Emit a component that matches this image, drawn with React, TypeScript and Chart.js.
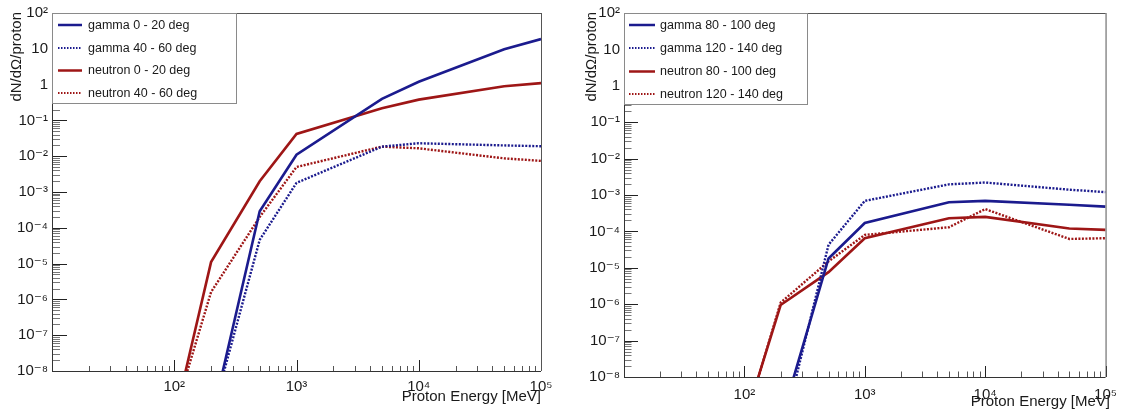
import React, { useEffect, useRef } from "react";
import { Chart, registerables } from "chart.js";

Chart.register(...registerables);

const FONT = "'Liberation Sans', Arial, Helvetica, 'DejaVu Sans', sans-serif";

const protonEnergy = [100, 200, 500, 1000, 5000, 10000, 50000, 100000];

// forward angles (left panel)
const gamma0to20 = [null, 3.8e-10, 2.9e-4, 1.1e-2, 0.4, 1.2, 9.7, 18.7];
const gamma40to60 = [null, 4.5e-10, 4.6e-5, 1.8e-3, 1.85e-2, 2.3e-2, 2.0e-2, 1.9e-2];
const neutron0to20 = [4.4e-10, 1.1e-5, 2.0e-3, 4.2e-2, 0.22, 0.38, 0.9, 1.1];
const neutron40to60 = [6e-10, 1.6e-6, 2.0e-4, 5.0e-3, 1.85e-2, 1.66e-2, 8.7e-3, 7.4e-3];

// backward angles (right panel)
const gamma80to100 = [null, 5.9e-10, 1.8e-5, 1.7e-4, 6.3e-4, 6.9e-4, 5.4e-4, 4.8e-4];
const gamma120to140 = [null, 1.8e-10, 4.3e-5, 6.9e-4, 1.96e-3, 2.2e-3, 1.4e-3, 1.2e-3];
const neutron80to100 = [5.8e-10, 9.5e-7, 7.6e-6, 6.5e-5, 2.3e-4, 2.5e-4, 1.2e-4, 1.1e-4];
const neutron120to140 = [5e-10, 1.1e-6, 1.5e-5, 8.0e-5, 1.3e-4, 4.1e-4, 6.2e-5, 6.5e-5];

const xTickValues = [100, 1000, 10000, 100000];
const xTickLabels = ["10²", "10³", "10⁴", "10⁵"];
const yTickValues = [1e2, 1e1, 1, 1e-1, 1e-2, 1e-3, 1e-4, 1e-5, 1e-6, 1e-7, 1e-8];
const yTickLabels = ["10²", "10", "1", "10⁻¹", "10⁻²", "10⁻³", "10⁻⁴", "10⁻⁵", "10⁻⁶", "10⁻⁷", "10⁻⁸"];

const xTitle = "Proton Energy [MeV]";
const yTitle = "dN/dΩ/proton";

const BLUE = "#1b1b8e";
const RED = "#9e1616";

const W = 563;
const H = 411;

type Series = { label: string; values: (number | null)[]; color: string; dotted: boolean };

type PanelCfg = {
  area: { left: number; top: number; right: number; bottom: number };
  legend: { x1: number; y1: number; x2: number; y2: number; s1: number; s2: number; tx: number; rows: number[] };
  yTitleX: number;
  yTitleEnd: number;
  xTitleRight: number;
  xTitleBase: number;
  yMajor: number;
  yMinor: number;
  xMajor: number;
  xMinor: number;
  xLabelPad: number;
  series: Series[];
};

const leftPanel: PanelCfg = {
  area: { left: 52, top: 13, right: 541, bottom: 371 },
  legend: { x1: 52, y1: 13, x2: 236, y2: 103, s1: 58, s2: 82, tx: 88, rows: [25, 48, 70.5, 93] },
  yTitleX: 17,
  yTitleEnd: 12,
  xTitleRight: 541,
  xTitleBase: 401,
  yMajor: 15,
  yMinor: 8,
  xMajor: 11,
  xMinor: 5,
  xLabelPad: 7,
  series: [
    { label: "gamma 0 - 20 deg", values: gamma0to20, color: BLUE, dotted: false },
    { label: "gamma 40 - 60 deg", values: gamma40to60, color: BLUE, dotted: true },
    { label: "neutron 0 - 20 deg", values: neutron0to20, color: RED, dotted: false },
    { label: "neutron 40 - 60 deg", values: neutron40to60, color: RED, dotted: true },
  ],
};

const rightPanel: PanelCfg = {
  area: { left: 61, top: 13, right: 546, bottom: 377 },
  legend: { x1: 61, y1: 13, x2: 244, y2: 104, s1: 66, s2: 92, tx: 97, rows: [25, 48, 71.5, 94] },
  yTitleX: 29,
  yTitleEnd: 12,
  xTitleRight: 547,
  xTitleBase: 406,
  yMajor: 14,
  yMinor: 7.5,
  xMajor: 11,
  xMinor: 5.5,
  xLabelPad: 9,
  series: [
    { label: "gamma 80 - 100 deg", values: gamma80to100, color: BLUE, dotted: false },
    { label: "gamma 120 - 140 deg", values: gamma120to140, color: BLUE, dotted: true },
    { label: "neutron 80 - 100 deg", values: neutron80to100, color: RED, dotted: false },
    { label: "neutron 120 - 140 deg", values: neutron120to140, color: RED, dotted: true },
  ],
};

const rootStylePlugin = {
  id: "rootStyle",
  afterDraw(chart: any) {
    const cfg: PanelCfg = chart.options.plugins.rootStyle;
    if (!cfg) return;
    const ctx: CanvasRenderingContext2D = chart.ctx;
    const { left, right, top, bottom } = chart.chartArea;
    const xs = chart.scales.x;
    const ys = chart.scales.y;
    ctx.save();
    const seg = (x1: number, y1: number, x2: number, y2: number) => {
      ctx.beginPath();
      ctx.moveTo(x1, y1);
      ctx.lineTo(x2, y2);
      ctx.stroke();
    };
    ctx.lineWidth = 1;
    // y ticks (inward on left axis)
    for (let d = -8; d <= 2; d++) {
      for (let m = 1; m <= 9; m++) {
        if (d === 2 && m > 1) break;
        const v = m * Math.pow(10, d);
        const py = Math.round(ys.getPixelForValue(v)) + 0.5;
        const major = m === 1;
        ctx.strokeStyle = major ? "#222" : "#777";
        seg(left, py, left + (major ? cfg.yMajor : cfg.yMinor), py);
      }
    }
    // x ticks (inward on bottom axis)
    for (let d = 1; d <= 5; d++) {
      for (let m = 1; m <= 9; m++) {
        if (d === 5 && m > 1) break;
        const v = m * Math.pow(10, d);
        const px = Math.round(xs.getPixelForValue(v)) + 0.5;
        const major = m === 1;
        ctx.strokeStyle = major ? "#222" : "#555";
        seg(px, bottom, px, bottom - (major ? cfg.xMajor : cfg.xMinor));
      }
    }
    // frame
    ctx.strokeStyle = "#333";
    ctx.lineWidth = 1;
    seg(left + 0.5, top, left + 0.5, bottom);
    seg(left, bottom + 0.5, right, bottom + 0.5);
    ctx.strokeStyle = "#555";
    seg(left, top + 0.5, right, top + 0.5);
    seg(right + 0.5, top, right + 0.5, bottom);

    // legend
    const L = cfg.legend;
    ctx.fillStyle = "#fff";
    ctx.fillRect(L.x1 + 1, L.y1 + 1, L.x2 - L.x1 - 1, L.y2 - L.y1 - 1);
    ctx.strokeStyle = "#8a8a8a";
    ctx.lineWidth = 1;
    ctx.strokeRect(L.x1 + 0.5, L.y1 + 0.5, L.x2 - L.x1, L.y2 - L.y1);
    ctx.font = `12.5px ${FONT}`;
    ctx.textAlign = "left";
    ctx.textBaseline = "middle";
    chart.data.datasets.forEach((ds: any, i: number) => {
      const y = L.rows[i];
      ctx.strokeStyle = ds.borderColor;
      if (ds.borderDash && ds.borderDash.length) {
        ctx.lineWidth = 2;
        ctx.setLineDash([1.5, 1.5]);
      } else {
        ctx.lineWidth = 2.5;
        ctx.setLineDash([]);
      }
      seg(L.s1, y, L.s2, y);
      ctx.setLineDash([]);
      ctx.fillStyle = "#1a1a1a";
      ctx.fillText(ds.label, L.tx, y + 0.5);
    });

    // axis titles
    ctx.fillStyle = "#1a1a1a";
    ctx.font = `15px ${FONT}`;
    ctx.textAlign = "right";
    ctx.textBaseline = "alphabetic";
    ctx.fillText(xTitle, cfg.xTitleRight, cfg.xTitleBase);
    ctx.save();
    ctx.translate(cfg.yTitleX, cfg.yTitleEnd);
    ctx.rotate(-Math.PI / 2);
    ctx.textAlign = "right";
    ctx.textBaseline = "middle";
    ctx.fillText(yTitle, 0, 0);
    ctx.restore();
    ctx.restore();
  },
};

function Panel({ offset, cfg }: { offset: number; cfg: PanelCfg }) {
  const ref = useRef<HTMLCanvasElement>(null);
  useEffect(() => {
    const canvas = ref.current;
    if (!canvas) return;
    const chart = new Chart(canvas, {
      type: "line",
      data: {
        datasets: cfg.series.map((s) => ({
          label: s.label,
          data: protonEnergy.map((x, i) => ({ x, y: s.values[i] as any })),
          borderColor: s.color,
          backgroundColor: s.color,
          borderWidth: s.dotted ? 2.4 : 2.6,
          borderDash: s.dotted ? [2, 1.5] : [],
          pointRadius: 0,
          pointHoverRadius: 0,
          fill: false,
          tension: 0,
          spanGaps: false,
          clip: 0,
        })),
      },
      options: {
        responsive: false,
        animation: false,
        devicePixelRatio: 1,
        events: [],
        layout: { padding: { left: 0, top: cfg.area.top, right: W - cfg.area.right, bottom: 0 } },
        plugins: {
          legend: { display: false },
          tooltip: { enabled: false },
          rootStyle: cfg,
        } as any,
        scales: {
          x: {
            type: "logarithmic",
            min: 10,
            max: 100000,
            afterBuildTicks: (s: any) => {
              s.ticks = xTickValues.map((v) => ({ value: v }));
            },
            afterFit: (s: any) => {
              s.height = H - cfg.area.bottom;
            },
            grid: { display: false, drawTicks: false },
            border: { display: false },
            ticks: {
              autoSkip: false,
              maxRotation: 0,
              minRotation: 0,
              padding: cfg.xLabelPad,
              color: "#1a1a1a",
              font: { family: FONT, size: 15 },
              callback: (_v: any, i: number) => xTickLabels[i],
            },
          },
          y: {
            type: "logarithmic",
            min: 1e-8,
            max: 100,
            afterBuildTicks: (s: any) => {
              s.ticks = yTickValues.map((v) => ({ value: v }));
            },
            afterFit: (s: any) => {
              s.width = cfg.area.left;
            },
            grid: { display: false, drawTicks: false },
            border: { display: false },
            ticks: {
              autoSkip: false,
              padding: 4,
              color: "#1a1a1a",
              font: { family: FONT, size: 15 },
              callback: (_v: any, i: number) => yTickLabels[i],
            },
          },
        },
      } as any,
      plugins: [rootStylePlugin],
    });
    return () => chart.destroy();
  }, [cfg]);
  return (
    <canvas
      ref={ref}
      width={W}
      height={H}
      style={{ position: "absolute", left: offset, top: 0, width: W, height: H }}
    />
  );
}

export default function App() {
  return (
    <div style={{ position: "absolute", left: 0, top: 0, width: 1126, height: 411, background: "#fff" }}>
      <Panel offset={0} cfg={leftPanel} />
      <Panel offset={W} cfg={rightPanel} />
    </div>
  );
}
